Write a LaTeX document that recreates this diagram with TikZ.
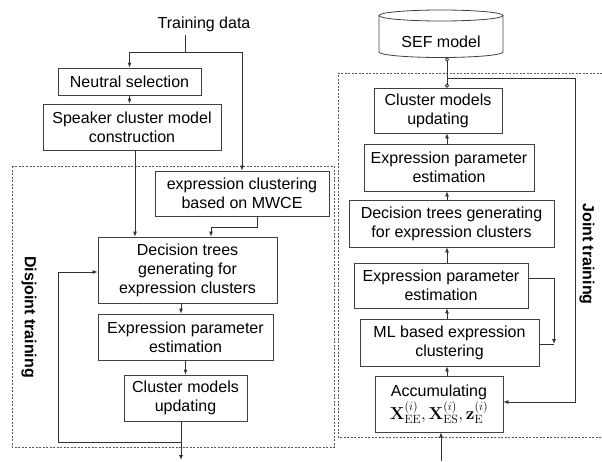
\documentclass[tikz,border=0pt]{standalone}
\usepackage[no-math]{fontspec}
\setmainfont{Liberation Sans}
\usetikzlibrary{arrows.meta,calc}

\begin{document}
\begin{tikzpicture}[x=1pt,y=-1pt,
  font=\fontsize{16}{19}\selectfont,
  box/.style={draw=black!75, line width=0.8pt, align=center, inner sep=0pt},
  conn/.style={draw=black!80, line width=0.8pt},
  arr/.style={conn, -{Latex[length=5pt,width=4pt]}},
  frame/.style={draw=black!65, line width=0.7pt, dash pattern=on 2pt off 1.5pt},
  vlabel/.style={font=\fontsize{16}{19}\selectfont\bfseries, rotate=-90}]
\useasboundingbox (0,0) rectangle (602,461);

% dashed frames of the two training stages
\draw[frame] (12,166) rectangle (334,447);
\draw[frame] (602,73) -- (338,73) -- (338,437) -- (602,437);

% ---------- disjoint training (left) ----------
\node (td) at (204,24) {Training data};
\node[box, minimum width=143pt, minimum height=27pt] (ns) at (129.5,81.5) {Neutral selection};
\node[box, minimum width=178pt, minimum height=46pt] (sc) at (132,127) {Speaker cluster model\\construction};
\node[box, minimum width=174pt, minimum height=45pt] (ec) at (242,193.5) {expression clustering\\based on MWCE};
\node[box, minimum width=179pt, minimum height=66pt] (dt) at (187.5,270) {Decision trees\\generating for\\expression clusters};
\node[box, minimum width=175pt, minimum height=46pt] (ep) at (185.5,337) {Expression parameter\\estimation};
\node[box, minimum width=123pt, minimum height=46pt] (cm) at (185.5,398) {Cluster models\\updating};
\node[vlabel] (dj) at (29,317) {Disjoint training};

\coordinate (split) at (185,52);
\coordinate (out) at (181,460);
\coordinate (lp) at (181,442);
\coordinate (lpl) at (58,442);

\draw[conn] (td.south -| split) -- (split);
\draw[arr] (split) -| (ns.north);
\draw[arr] (split) -| (ec.north);
\draw[arr] (ns.south) -- (sc.north -| ns.south);
\draw[arr] ([xshift=3pt]sc.south) -- ([xshift=3pt]sc.south |- dt.north);
\draw[arr] ([xshift=15pt]ec.south) -- ++(0,11) -| ([xshift=23.5pt]dt.north);
\draw[arr] ([xshift=-6.5pt]dt.south) -- ([xshift=-6.5pt]dt.south |- ep.north);
\draw[arr] (ep.south) -- (cm.north);
\draw[arr] (cm.south -| out) -- (out);
\draw[arr] (lp) -- (lpl) |- ([yshift=-2pt]dt.west);

% ---------- joint training (right) ----------
\draw[box] (441,15.5) ellipse [x radius=62, y radius=5.5];
\draw[box] (379,15.5) -- (379,52) arc[start angle=180, end angle=0, x radius=62, y radius=5.5] -- (503,15.5);
\node (sef) at (441,42) {SEF model};
\coordinate (sefb) at (447,57.5);

\node[box, minimum width=128pt, minimum height=45pt] (cm2) at (438,110.5) {Cluster models\\updating};
\node[box, minimum width=170pt, minimum height=47pt] (ep2) at (449,167.5) {Expression parameter\\estimation};
\node[box, minimum width=205pt, minimum height=47pt] (dt2) at (451.5,223.5) {Decision trees generating\\for expression clusters};
\node[box, minimum width=174pt, minimum height=45pt] (ep3) at (441,285.5) {Expression parameter\\estimation};
\node[box, minimum width=179pt, minimum height=47pt] (ml) at (449.5,342.5) {ML based expression\\clustering};
\node[box, minimum width=128pt, minimum height=56pt] (ac) at (439,404) {Accumulating\\[1pt]{\fontsize{17}{20}\selectfont $\mathbf{X}^{(i)}_{\mathrm{EE}},\mathbf{X}^{(i)}_{\mathrm{ES}},\mathbf{z}^{(i)}_{\mathrm{E}}$}};
\node[vlabel] (jt) at (587,254) {Joint training};

\coordinate (top) at (447,78);
\coordinate (jr) at (575,78);
\coordinate (fb) at (554,344);
\coordinate (in) at (441,461);

\draw[conn, {Circle[open,length=4pt]}-{Circle[open,length=4pt]}] (cm2.north -| sefb) -- (sefb);
\draw[arr] (top) -- (jr) |- ([yshift=2pt]ac.east);
\draw[arr] (ep2.north -| top) -- (cm2.south -| top);
\draw[arr] (dt2.north -| top) -- (ep2.south -| top);
\draw[arr] (ep3.north -| top) -- (dt2.south -| top);
\draw[arr] (ml.north -| top) -- (ep3.south -| top);
\draw[arr] (ac.north -| top) -- (ml.south -| top);
\draw[arr] (in) -- (ac.south -| in);
\draw[arr] ([yshift=7.5pt]ep3.east) -| (fb);
\draw[conn] (ml.east |- fb) -- (fb);
\end{tikzpicture}
\end{document}
